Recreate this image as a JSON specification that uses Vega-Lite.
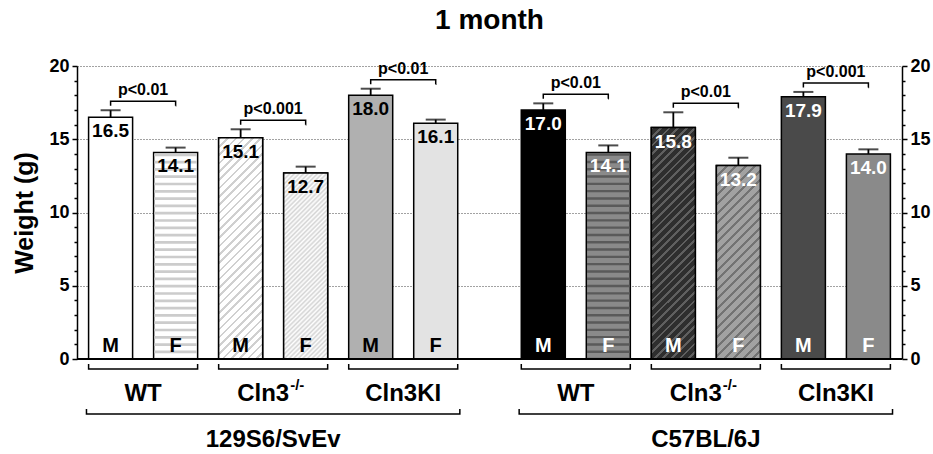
{
  "$schema": "https://vega.github.io/schema/vega-lite/v6.json",
  "width": 825,
  "height": 293,
  "autosize": {"type": "none"},
  "padding": {"left": 77, "top": 66, "right": 31, "bottom": 95},
  "background": "white",
  "title": {"text": "1 month", "fontSize": 28, "font": "Liberation Sans", "fontWeight": "bold", "color": "black", "anchor": "middle", "frame": "group", "baseline": "alphabetic", "offset": 0},
  "config": {
    "view": {"stroke": null},
    "font": "Liberation Sans",
    "axis": {"domainColor": "black", "domainWidth": 1.5, "tickColor": "black", "tickWidth": 1.5, "labelColor": "black", "labelFontSize": 18, "labelFontWeight": "bold", "labelFont": "Liberation Sans"}
  },
  "data": {"values": [
    {"strain": "129S6/SvEv", "genotype": "WT", "sex": "M", "sub": "WT M", "bar": "129S6/SvEv WT M", "mean": 16.5, "upper": 16.98, "p": "p<0.01"},
    {"strain": "129S6/SvEv", "genotype": "WT", "sex": "F", "sub": "WT F", "bar": "129S6/SvEv WT F", "mean": 14.1, "upper": 14.43, "p": "p<0.01"},
    {"strain": "129S6/SvEv", "genotype": "Cln3-/-", "sex": "M", "sub": "Cln3-/- M", "bar": "129S6/SvEv Cln3-/- M", "mean": 15.1, "upper": 15.68, "p": "p<0.001"},
    {"strain": "129S6/SvEv", "genotype": "Cln3-/-", "sex": "F", "sub": "Cln3-/- F", "bar": "129S6/SvEv Cln3-/- F", "mean": 12.7, "upper": 13.13, "p": "p<0.001"},
    {"strain": "129S6/SvEv", "genotype": "Cln3KI", "sex": "M", "sub": "Cln3KI M", "bar": "129S6/SvEv Cln3KI M", "mean": 18.0, "upper": 18.45, "p": "p<0.01"},
    {"strain": "129S6/SvEv", "genotype": "Cln3KI", "sex": "F", "sub": "Cln3KI F", "bar": "129S6/SvEv Cln3KI F", "mean": 16.1, "upper": 16.34, "p": "p<0.01"},
    {"strain": "C57BL/6J", "genotype": "WT", "sex": "M", "sub": "WT M", "bar": "C57BL/6J WT M", "mean": 17.0, "upper": 17.45, "p": "p<0.01"},
    {"strain": "C57BL/6J", "genotype": "WT", "sex": "F", "sub": "WT F", "bar": "C57BL/6J WT F", "mean": 14.1, "upper": 14.58, "p": "p<0.01"},
    {"strain": "C57BL/6J", "genotype": "Cln3-/-", "sex": "M", "sub": "Cln3-/- M", "bar": "C57BL/6J Cln3-/- M", "mean": 15.8, "upper": 16.84, "p": "p<0.01"},
    {"strain": "C57BL/6J", "genotype": "Cln3-/-", "sex": "F", "sub": "Cln3-/- F", "bar": "C57BL/6J Cln3-/- F", "mean": 13.2, "upper": 13.74, "p": "p<0.01"},
    {"strain": "C57BL/6J", "genotype": "Cln3KI", "sex": "M", "sub": "Cln3KI M", "bar": "C57BL/6J Cln3KI M", "mean": 17.9, "upper": 18.23, "p": "p<0.001"},
    {"strain": "C57BL/6J", "genotype": "Cln3KI", "sex": "F", "sub": "Cln3KI F", "bar": "C57BL/6J Cln3KI F", "mean": 14.0, "upper": 14.31, "p": "p<0.001"}
  ]},
  "resolve": {"scale": {"xOffset": "independent"}, "axis": {"y": "independent"}},
  "layer": [
    {
      "mark": {"type": "bar", "stroke": "black", "strokeWidth": 1.5},
      "encoding": {
        "x": {"field": "strain", "type": "nominal", "scale": {"domain": ["129S6/SvEv", "C57BL/6J"], "paddingInner": 0.0983, "paddingOuter": 0.0025}, "axis": null},
        "xOffset": {"field": "sub", "type": "nominal", "scale": {"domain": ["WT M", "WT F", "Cln3-/- M", "Cln3-/- F", "Cln3KI M", "Cln3KI F"], "paddingInner": 0.323, "paddingOuter": 0.1615}},
        "y": {"field": "mean", "type": "quantitative", "scale": {"domain": [0, 20], "nice": false},
          "axis": {"orient": "left", "values": [0, 5, 10, 15, 20], "grid": true, "gridDash": [1, 2], "gridColor": "#444", "gridWidth": 1, "tickSize": 5, "labelPadding": 3, "title": "Weight (g)", "titleFont": "Liberation Sans", "titleFontSize": 25, "titleFontWeight": "bold", "titleColor": "black", "titlePadding": 11}},
        "fill": {"field": "bar", "type": "nominal", "legend": null, "scale": {
          "domain": ["129S6/SvEv WT M", "129S6/SvEv WT F", "129S6/SvEv Cln3-/- M", "129S6/SvEv Cln3-/- F", "129S6/SvEv Cln3KI M", "129S6/SvEv Cln3KI F", "C57BL/6J WT M", "C57BL/6J WT F", "C57BL/6J Cln3-/- M", "C57BL/6J Cln3-/- F", "C57BL/6J Cln3KI M", "C57BL/6J Cln3KI F"],
          "range": ["#ffffff", "#ffffff", "#f0f0f0", "#e9e9e9", "#b0b0b0", "#e3e3e3", "#000000", "#8a8a8a", "#383838", "#999999", "#4a4a4a", "#8a8a8a"]}}
      }
    },
    {
      "transform": [{"filter": "datum.sub === 'WT F' && datum.strain === '129S6/SvEv'"}],
      "mark": {"type": "rule", "color": "#cccccc", "strokeWidth": 42.5, "strokeDash": [2.7, 4.6], "strokeCap": "butt", "yOffset": 1, "y2Offset": -1},
      "encoding": {
        "x": {"field": "strain", "type": "nominal", "scale": {"domain": ["129S6/SvEv", "C57BL/6J"], "paddingInner": 0.0983, "paddingOuter": 0.0025}, "axis": null},
        "xOffset": {"field": "sub", "type": "nominal", "scale": {"domain": ["WT M", "WT F", "Cln3-/- M", "Cln3-/- F", "Cln3KI M", "Cln3KI F"], "paddingInner": 0.323, "paddingOuter": 0.1615}},
        "y": {"field": "mean", "type": "quantitative", "scale": {"domain": [0, 20], "nice": false}, "axis": null},
        "y2": {"datum": 0}
      }
    },
    {
      "transform": [{"filter": "datum.sub === 'WT F' && datum.strain === 'C57BL/6J'"}],
      "mark": {"type": "rule", "color": "#5a5a5a", "strokeWidth": 42.5, "strokeDash": [2.4, 4.9], "strokeCap": "butt", "yOffset": 1, "y2Offset": -1},
      "encoding": {
        "x": {"field": "strain", "type": "nominal", "scale": {"domain": ["129S6/SvEv", "C57BL/6J"], "paddingInner": 0.0983, "paddingOuter": 0.0025}, "axis": null},
        "xOffset": {"field": "sub", "type": "nominal", "scale": {"domain": ["WT M", "WT F", "Cln3-/- M", "Cln3-/- F", "Cln3KI M", "Cln3KI F"], "paddingInner": 0.323, "paddingOuter": 0.1615}},
        "y": {"field": "mean", "type": "quantitative", "scale": {"domain": [0, 20], "nice": false}, "axis": null},
        "y2": {"datum": 0}
      }
    },
    {
      "transform": [{"filter": "datum.sub === 'Cln3-/- M' && datum.strain === '129S6/SvEv'"}],
      "mark": {"type": "bar", "stroke": "black", "strokeWidth": 1.5, "fill": {"gradient": "linear", "x1": 0, "y1": 0, "x2": 0.2294, "y2": 1.1533, "stops": [
        {"offset": 0, "color": "#d0d0d0"}, {"offset": 0.01, "color": "#d0d0d0"}, {"offset": 0.01, "color": "#ffffff"}, {"offset": 0.03125, "color": "#ffffff"},
        {"offset": 0.03125, "color": "#d0d0d0"}, {"offset": 0.04125, "color": "#d0d0d0"}, {"offset": 0.04125, "color": "#ffffff"}, {"offset": 0.0625, "color": "#ffffff"},
        {"offset": 0.0625, "color": "#d0d0d0"}, {"offset": 0.0725, "color": "#d0d0d0"}, {"offset": 0.0725, "color": "#ffffff"}, {"offset": 0.09375, "color": "#ffffff"},
        {"offset": 0.09375, "color": "#d0d0d0"}, {"offset": 0.10375, "color": "#d0d0d0"}, {"offset": 0.10375, "color": "#ffffff"}, {"offset": 0.125, "color": "#ffffff"},
        {"offset": 0.125, "color": "#d0d0d0"}, {"offset": 0.135, "color": "#d0d0d0"}, {"offset": 0.135, "color": "#ffffff"}, {"offset": 0.15625, "color": "#ffffff"},
        {"offset": 0.15625, "color": "#d0d0d0"}, {"offset": 0.16625, "color": "#d0d0d0"}, {"offset": 0.16625, "color": "#ffffff"}, {"offset": 0.1875, "color": "#ffffff"},
        {"offset": 0.1875, "color": "#d0d0d0"}, {"offset": 0.1975, "color": "#d0d0d0"}, {"offset": 0.1975, "color": "#ffffff"}, {"offset": 0.21875, "color": "#ffffff"},
        {"offset": 0.21875, "color": "#d0d0d0"}, {"offset": 0.22875, "color": "#d0d0d0"}, {"offset": 0.22875, "color": "#ffffff"}, {"offset": 0.25, "color": "#ffffff"},
        {"offset": 0.25, "color": "#d0d0d0"}, {"offset": 0.26, "color": "#d0d0d0"}, {"offset": 0.26, "color": "#ffffff"}, {"offset": 0.28125, "color": "#ffffff"},
        {"offset": 0.28125, "color": "#d0d0d0"}, {"offset": 0.29125, "color": "#d0d0d0"}, {"offset": 0.29125, "color": "#ffffff"}, {"offset": 0.3125, "color": "#ffffff"},
        {"offset": 0.3125, "color": "#d0d0d0"}, {"offset": 0.3225, "color": "#d0d0d0"}, {"offset": 0.3225, "color": "#ffffff"}, {"offset": 0.34375, "color": "#ffffff"},
        {"offset": 0.34375, "color": "#d0d0d0"}, {"offset": 0.35375, "color": "#d0d0d0"}, {"offset": 0.35375, "color": "#ffffff"}, {"offset": 0.375, "color": "#ffffff"},
        {"offset": 0.375, "color": "#d0d0d0"}, {"offset": 0.385, "color": "#d0d0d0"}, {"offset": 0.385, "color": "#ffffff"}, {"offset": 0.40625, "color": "#ffffff"},
        {"offset": 0.40625, "color": "#d0d0d0"}, {"offset": 0.41625, "color": "#d0d0d0"}, {"offset": 0.41625, "color": "#ffffff"}, {"offset": 0.4375, "color": "#ffffff"},
        {"offset": 0.4375, "color": "#d0d0d0"}, {"offset": 0.4475, "color": "#d0d0d0"}, {"offset": 0.4475, "color": "#ffffff"}, {"offset": 0.46875, "color": "#ffffff"},
        {"offset": 0.46875, "color": "#d0d0d0"}, {"offset": 0.47875, "color": "#d0d0d0"}, {"offset": 0.47875, "color": "#ffffff"}, {"offset": 0.5, "color": "#ffffff"},
        {"offset": 0.5, "color": "#d0d0d0"}, {"offset": 0.51, "color": "#d0d0d0"}, {"offset": 0.51, "color": "#ffffff"}, {"offset": 0.53125, "color": "#ffffff"},
        {"offset": 0.53125, "color": "#d0d0d0"}, {"offset": 0.54125, "color": "#d0d0d0"}, {"offset": 0.54125, "color": "#ffffff"}, {"offset": 0.5625, "color": "#ffffff"},
        {"offset": 0.5625, "color": "#d0d0d0"}, {"offset": 0.5725, "color": "#d0d0d0"}, {"offset": 0.5725, "color": "#ffffff"}, {"offset": 0.59375, "color": "#ffffff"},
        {"offset": 0.59375, "color": "#d0d0d0"}, {"offset": 0.60375, "color": "#d0d0d0"}, {"offset": 0.60375, "color": "#ffffff"}, {"offset": 0.625, "color": "#ffffff"},
        {"offset": 0.625, "color": "#d0d0d0"}, {"offset": 0.635, "color": "#d0d0d0"}, {"offset": 0.635, "color": "#ffffff"}, {"offset": 0.65625, "color": "#ffffff"},
        {"offset": 0.65625, "color": "#d0d0d0"}, {"offset": 0.66625, "color": "#d0d0d0"}, {"offset": 0.66625, "color": "#ffffff"}, {"offset": 0.6875, "color": "#ffffff"},
        {"offset": 0.6875, "color": "#d0d0d0"}, {"offset": 0.6975, "color": "#d0d0d0"}, {"offset": 0.6975, "color": "#ffffff"}, {"offset": 0.71875, "color": "#ffffff"},
        {"offset": 0.71875, "color": "#d0d0d0"}, {"offset": 0.72875, "color": "#d0d0d0"}, {"offset": 0.72875, "color": "#ffffff"}, {"offset": 0.75, "color": "#ffffff"},
        {"offset": 0.75, "color": "#d0d0d0"}, {"offset": 0.76, "color": "#d0d0d0"}, {"offset": 0.76, "color": "#ffffff"}, {"offset": 0.78125, "color": "#ffffff"},
        {"offset": 0.78125, "color": "#d0d0d0"}, {"offset": 0.79125, "color": "#d0d0d0"}, {"offset": 0.79125, "color": "#ffffff"}, {"offset": 0.8125, "color": "#ffffff"},
        {"offset": 0.8125, "color": "#d0d0d0"}, {"offset": 0.8225, "color": "#d0d0d0"}, {"offset": 0.8225, "color": "#ffffff"}, {"offset": 0.84375, "color": "#ffffff"},
        {"offset": 0.84375, "color": "#d0d0d0"}, {"offset": 0.85375, "color": "#d0d0d0"}, {"offset": 0.85375, "color": "#ffffff"}, {"offset": 0.875, "color": "#ffffff"},
        {"offset": 0.875, "color": "#d0d0d0"}, {"offset": 0.885, "color": "#d0d0d0"}, {"offset": 0.885, "color": "#ffffff"}, {"offset": 0.90625, "color": "#ffffff"},
        {"offset": 0.90625, "color": "#d0d0d0"}, {"offset": 0.91625, "color": "#d0d0d0"}, {"offset": 0.91625, "color": "#ffffff"}, {"offset": 0.9375, "color": "#ffffff"},
        {"offset": 0.9375, "color": "#d0d0d0"}, {"offset": 0.9475, "color": "#d0d0d0"}, {"offset": 0.9475, "color": "#ffffff"}, {"offset": 0.96875, "color": "#ffffff"},
        {"offset": 0.96875, "color": "#d0d0d0"}, {"offset": 0.97875, "color": "#d0d0d0"}, {"offset": 0.97875, "color": "#ffffff"}, {"offset": 1, "color": "#ffffff"}
      ]}},
      "encoding": {
        "x": {"field": "strain", "type": "nominal", "scale": {"domain": ["129S6/SvEv", "C57BL/6J"], "paddingInner": 0.0983, "paddingOuter": 0.0025}, "axis": null},
        "xOffset": {"field": "sub", "type": "nominal", "scale": {"domain": ["WT M", "WT F", "Cln3-/- M", "Cln3-/- F", "Cln3KI M", "Cln3KI F"], "paddingInner": 0.323, "paddingOuter": 0.1615}},
        "y": {"field": "mean", "type": "quantitative", "scale": {"domain": [0, 20], "nice": false}, "axis": null}
      }
    },
    {
      "transform": [{"filter": "datum.sub === 'Cln3-/- F' && datum.strain === '129S6/SvEv'"}],
      "mark": {"type": "bar", "stroke": "black", "strokeWidth": 1.5, "fill": {"gradient": "linear", "x1": 0, "y1": 0, "x2": 0.2768, "y2": 1.171, "stops": [
        {"offset": 0, "color": "#ffffff"}, {"offset": 0.01, "color": "#d4d4d4"}, {"offset": 0.02, "color": "#ffffff"}, {"offset": 0.03, "color": "#d4d4d4"}, {"offset": 0.04, "color": "#ffffff"},
        {"offset": 0.05, "color": "#d4d4d4"}, {"offset": 0.06, "color": "#ffffff"}, {"offset": 0.07, "color": "#d4d4d4"}, {"offset": 0.08, "color": "#ffffff"}, {"offset": 0.09, "color": "#d4d4d4"},
        {"offset": 0.1, "color": "#ffffff"}, {"offset": 0.11, "color": "#d4d4d4"}, {"offset": 0.12, "color": "#ffffff"}, {"offset": 0.13, "color": "#d4d4d4"}, {"offset": 0.14, "color": "#ffffff"},
        {"offset": 0.15, "color": "#d4d4d4"}, {"offset": 0.16, "color": "#ffffff"}, {"offset": 0.17, "color": "#d4d4d4"}, {"offset": 0.18, "color": "#ffffff"}, {"offset": 0.19, "color": "#d4d4d4"},
        {"offset": 0.2, "color": "#ffffff"}, {"offset": 0.21, "color": "#d4d4d4"}, {"offset": 0.22, "color": "#ffffff"}, {"offset": 0.23, "color": "#d4d4d4"}, {"offset": 0.24, "color": "#ffffff"},
        {"offset": 0.25, "color": "#d4d4d4"}, {"offset": 0.26, "color": "#ffffff"}, {"offset": 0.27, "color": "#d4d4d4"}, {"offset": 0.28, "color": "#ffffff"}, {"offset": 0.29, "color": "#d4d4d4"},
        {"offset": 0.3, "color": "#ffffff"}, {"offset": 0.31, "color": "#d4d4d4"}, {"offset": 0.32, "color": "#ffffff"}, {"offset": 0.33, "color": "#d4d4d4"}, {"offset": 0.34, "color": "#ffffff"},
        {"offset": 0.35, "color": "#d4d4d4"}, {"offset": 0.36, "color": "#ffffff"}, {"offset": 0.37, "color": "#d4d4d4"}, {"offset": 0.38, "color": "#ffffff"}, {"offset": 0.39, "color": "#d4d4d4"},
        {"offset": 0.4, "color": "#ffffff"}, {"offset": 0.41, "color": "#d4d4d4"}, {"offset": 0.42, "color": "#ffffff"}, {"offset": 0.43, "color": "#d4d4d4"}, {"offset": 0.44, "color": "#ffffff"},
        {"offset": 0.45, "color": "#d4d4d4"}, {"offset": 0.46, "color": "#ffffff"}, {"offset": 0.47, "color": "#d4d4d4"}, {"offset": 0.48, "color": "#ffffff"}, {"offset": 0.49, "color": "#d4d4d4"},
        {"offset": 0.5, "color": "#ffffff"}, {"offset": 0.51, "color": "#d4d4d4"}, {"offset": 0.52, "color": "#ffffff"}, {"offset": 0.53, "color": "#d4d4d4"}, {"offset": 0.54, "color": "#ffffff"},
        {"offset": 0.55, "color": "#d4d4d4"}, {"offset": 0.56, "color": "#ffffff"}, {"offset": 0.57, "color": "#d4d4d4"}, {"offset": 0.58, "color": "#ffffff"}, {"offset": 0.59, "color": "#d4d4d4"},
        {"offset": 0.6, "color": "#ffffff"}, {"offset": 0.61, "color": "#d4d4d4"}, {"offset": 0.62, "color": "#ffffff"}, {"offset": 0.63, "color": "#d4d4d4"}, {"offset": 0.64, "color": "#ffffff"},
        {"offset": 0.65, "color": "#d4d4d4"}, {"offset": 0.66, "color": "#ffffff"}, {"offset": 0.67, "color": "#d4d4d4"}, {"offset": 0.68, "color": "#ffffff"}, {"offset": 0.69, "color": "#d4d4d4"},
        {"offset": 0.7, "color": "#ffffff"}, {"offset": 0.71, "color": "#d4d4d4"}, {"offset": 0.72, "color": "#ffffff"}, {"offset": 0.73, "color": "#d4d4d4"}, {"offset": 0.74, "color": "#ffffff"},
        {"offset": 0.75, "color": "#d4d4d4"}, {"offset": 0.76, "color": "#ffffff"}, {"offset": 0.77, "color": "#d4d4d4"}, {"offset": 0.78, "color": "#ffffff"}, {"offset": 0.79, "color": "#d4d4d4"},
        {"offset": 0.8, "color": "#ffffff"}, {"offset": 0.81, "color": "#d4d4d4"}, {"offset": 0.82, "color": "#ffffff"}, {"offset": 0.83, "color": "#d4d4d4"}, {"offset": 0.84, "color": "#ffffff"},
        {"offset": 0.85, "color": "#d4d4d4"}, {"offset": 0.86, "color": "#ffffff"}, {"offset": 0.87, "color": "#d4d4d4"}, {"offset": 0.88, "color": "#ffffff"}, {"offset": 0.89, "color": "#d4d4d4"},
        {"offset": 0.9, "color": "#ffffff"}, {"offset": 0.91, "color": "#d4d4d4"}, {"offset": 0.92, "color": "#ffffff"}, {"offset": 0.93, "color": "#d4d4d4"}, {"offset": 0.94, "color": "#ffffff"},
        {"offset": 0.95, "color": "#d4d4d4"}, {"offset": 0.96, "color": "#ffffff"}, {"offset": 0.97, "color": "#d4d4d4"}, {"offset": 0.98, "color": "#ffffff"}, {"offset": 0.99, "color": "#d4d4d4"},
        {"offset": 1, "color": "#ffffff"}
      ]}},
      "encoding": {
        "x": {"field": "strain", "type": "nominal", "scale": {"domain": ["129S6/SvEv", "C57BL/6J"], "paddingInner": 0.0983, "paddingOuter": 0.0025}, "axis": null},
        "xOffset": {"field": "sub", "type": "nominal", "scale": {"domain": ["WT M", "WT F", "Cln3-/- M", "Cln3-/- F", "Cln3KI M", "Cln3KI F"], "paddingInner": 0.323, "paddingOuter": 0.1615}},
        "y": {"field": "mean", "type": "quantitative", "scale": {"domain": [0, 20], "nice": false}, "axis": null}
      }
    },
    {
      "transform": [{"filter": "datum.sub === 'Cln3-/- M' && datum.strain === 'C57BL/6J'"}],
      "mark": {"type": "bar", "stroke": "black", "strokeWidth": 1.5, "fill": {"gradient": "linear", "x1": 0, "y1": 0, "x2": 0.2183, "y2": 1.1486, "stops": [
        {"offset": 0, "color": "#5f5f5f"}, {"offset": 0.01, "color": "#5f5f5f"}, {"offset": 0.01, "color": "#2e2e2e"}, {"offset": 0.03125, "color": "#2e2e2e"},
        {"offset": 0.03125, "color": "#5f5f5f"}, {"offset": 0.04125, "color": "#5f5f5f"}, {"offset": 0.04125, "color": "#2e2e2e"}, {"offset": 0.0625, "color": "#2e2e2e"},
        {"offset": 0.0625, "color": "#5f5f5f"}, {"offset": 0.0725, "color": "#5f5f5f"}, {"offset": 0.0725, "color": "#2e2e2e"}, {"offset": 0.09375, "color": "#2e2e2e"},
        {"offset": 0.09375, "color": "#5f5f5f"}, {"offset": 0.10375, "color": "#5f5f5f"}, {"offset": 0.10375, "color": "#2e2e2e"}, {"offset": 0.125, "color": "#2e2e2e"},
        {"offset": 0.125, "color": "#5f5f5f"}, {"offset": 0.135, "color": "#5f5f5f"}, {"offset": 0.135, "color": "#2e2e2e"}, {"offset": 0.15625, "color": "#2e2e2e"},
        {"offset": 0.15625, "color": "#5f5f5f"}, {"offset": 0.16625, "color": "#5f5f5f"}, {"offset": 0.16625, "color": "#2e2e2e"}, {"offset": 0.1875, "color": "#2e2e2e"},
        {"offset": 0.1875, "color": "#5f5f5f"}, {"offset": 0.1975, "color": "#5f5f5f"}, {"offset": 0.1975, "color": "#2e2e2e"}, {"offset": 0.21875, "color": "#2e2e2e"},
        {"offset": 0.21875, "color": "#5f5f5f"}, {"offset": 0.22875, "color": "#5f5f5f"}, {"offset": 0.22875, "color": "#2e2e2e"}, {"offset": 0.25, "color": "#2e2e2e"},
        {"offset": 0.25, "color": "#5f5f5f"}, {"offset": 0.26, "color": "#5f5f5f"}, {"offset": 0.26, "color": "#2e2e2e"}, {"offset": 0.28125, "color": "#2e2e2e"},
        {"offset": 0.28125, "color": "#5f5f5f"}, {"offset": 0.29125, "color": "#5f5f5f"}, {"offset": 0.29125, "color": "#2e2e2e"}, {"offset": 0.3125, "color": "#2e2e2e"},
        {"offset": 0.3125, "color": "#5f5f5f"}, {"offset": 0.3225, "color": "#5f5f5f"}, {"offset": 0.3225, "color": "#2e2e2e"}, {"offset": 0.34375, "color": "#2e2e2e"},
        {"offset": 0.34375, "color": "#5f5f5f"}, {"offset": 0.35375, "color": "#5f5f5f"}, {"offset": 0.35375, "color": "#2e2e2e"}, {"offset": 0.375, "color": "#2e2e2e"},
        {"offset": 0.375, "color": "#5f5f5f"}, {"offset": 0.385, "color": "#5f5f5f"}, {"offset": 0.385, "color": "#2e2e2e"}, {"offset": 0.40625, "color": "#2e2e2e"},
        {"offset": 0.40625, "color": "#5f5f5f"}, {"offset": 0.41625, "color": "#5f5f5f"}, {"offset": 0.41625, "color": "#2e2e2e"}, {"offset": 0.4375, "color": "#2e2e2e"},
        {"offset": 0.4375, "color": "#5f5f5f"}, {"offset": 0.4475, "color": "#5f5f5f"}, {"offset": 0.4475, "color": "#2e2e2e"}, {"offset": 0.46875, "color": "#2e2e2e"},
        {"offset": 0.46875, "color": "#5f5f5f"}, {"offset": 0.47875, "color": "#5f5f5f"}, {"offset": 0.47875, "color": "#2e2e2e"}, {"offset": 0.5, "color": "#2e2e2e"},
        {"offset": 0.5, "color": "#5f5f5f"}, {"offset": 0.51, "color": "#5f5f5f"}, {"offset": 0.51, "color": "#2e2e2e"}, {"offset": 0.53125, "color": "#2e2e2e"},
        {"offset": 0.53125, "color": "#5f5f5f"}, {"offset": 0.54125, "color": "#5f5f5f"}, {"offset": 0.54125, "color": "#2e2e2e"}, {"offset": 0.5625, "color": "#2e2e2e"},
        {"offset": 0.5625, "color": "#5f5f5f"}, {"offset": 0.5725, "color": "#5f5f5f"}, {"offset": 0.5725, "color": "#2e2e2e"}, {"offset": 0.59375, "color": "#2e2e2e"},
        {"offset": 0.59375, "color": "#5f5f5f"}, {"offset": 0.60375, "color": "#5f5f5f"}, {"offset": 0.60375, "color": "#2e2e2e"}, {"offset": 0.625, "color": "#2e2e2e"},
        {"offset": 0.625, "color": "#5f5f5f"}, {"offset": 0.635, "color": "#5f5f5f"}, {"offset": 0.635, "color": "#2e2e2e"}, {"offset": 0.65625, "color": "#2e2e2e"},
        {"offset": 0.65625, "color": "#5f5f5f"}, {"offset": 0.66625, "color": "#5f5f5f"}, {"offset": 0.66625, "color": "#2e2e2e"}, {"offset": 0.6875, "color": "#2e2e2e"},
        {"offset": 0.6875, "color": "#5f5f5f"}, {"offset": 0.6975, "color": "#5f5f5f"}, {"offset": 0.6975, "color": "#2e2e2e"}, {"offset": 0.71875, "color": "#2e2e2e"},
        {"offset": 0.71875, "color": "#5f5f5f"}, {"offset": 0.72875, "color": "#5f5f5f"}, {"offset": 0.72875, "color": "#2e2e2e"}, {"offset": 0.75, "color": "#2e2e2e"},
        {"offset": 0.75, "color": "#5f5f5f"}, {"offset": 0.76, "color": "#5f5f5f"}, {"offset": 0.76, "color": "#2e2e2e"}, {"offset": 0.78125, "color": "#2e2e2e"},
        {"offset": 0.78125, "color": "#5f5f5f"}, {"offset": 0.79125, "color": "#5f5f5f"}, {"offset": 0.79125, "color": "#2e2e2e"}, {"offset": 0.8125, "color": "#2e2e2e"},
        {"offset": 0.8125, "color": "#5f5f5f"}, {"offset": 0.8225, "color": "#5f5f5f"}, {"offset": 0.8225, "color": "#2e2e2e"}, {"offset": 0.84375, "color": "#2e2e2e"},
        {"offset": 0.84375, "color": "#5f5f5f"}, {"offset": 0.85375, "color": "#5f5f5f"}, {"offset": 0.85375, "color": "#2e2e2e"}, {"offset": 0.875, "color": "#2e2e2e"},
        {"offset": 0.875, "color": "#5f5f5f"}, {"offset": 0.885, "color": "#5f5f5f"}, {"offset": 0.885, "color": "#2e2e2e"}, {"offset": 0.90625, "color": "#2e2e2e"},
        {"offset": 0.90625, "color": "#5f5f5f"}, {"offset": 0.91625, "color": "#5f5f5f"}, {"offset": 0.91625, "color": "#2e2e2e"}, {"offset": 0.9375, "color": "#2e2e2e"},
        {"offset": 0.9375, "color": "#5f5f5f"}, {"offset": 0.9475, "color": "#5f5f5f"}, {"offset": 0.9475, "color": "#2e2e2e"}, {"offset": 0.96875, "color": "#2e2e2e"},
        {"offset": 0.96875, "color": "#5f5f5f"}, {"offset": 0.97875, "color": "#5f5f5f"}, {"offset": 0.97875, "color": "#2e2e2e"}, {"offset": 1, "color": "#2e2e2e"}
      ]}},
      "encoding": {
        "x": {"field": "strain", "type": "nominal", "scale": {"domain": ["129S6/SvEv", "C57BL/6J"], "paddingInner": 0.0983, "paddingOuter": 0.0025}, "axis": null},
        "xOffset": {"field": "sub", "type": "nominal", "scale": {"domain": ["WT M", "WT F", "Cln3-/- M", "Cln3-/- F", "Cln3KI M", "Cln3KI F"], "paddingInner": 0.323, "paddingOuter": 0.1615}},
        "y": {"field": "mean", "type": "quantitative", "scale": {"domain": [0, 20], "nice": false}, "axis": null}
      }
    },
    {
      "transform": [{"filter": "datum.sub === 'Cln3-/- F' && datum.strain === 'C57BL/6J'"}],
      "mark": {"type": "bar", "stroke": "black", "strokeWidth": 1.5, "fill": {"gradient": "linear", "x1": 0, "y1": 0, "x2": 0.2655, "y2": 1.1671, "stops": [
        {"offset": 0, "color": "#737373"}, {"offset": 0.012, "color": "#737373"}, {"offset": 0.012, "color": "#a2a2a2"}, {"offset": 0.04, "color": "#a2a2a2"},
        {"offset": 0.04, "color": "#737373"}, {"offset": 0.052, "color": "#737373"}, {"offset": 0.052, "color": "#a2a2a2"}, {"offset": 0.08, "color": "#a2a2a2"},
        {"offset": 0.08, "color": "#737373"}, {"offset": 0.092, "color": "#737373"}, {"offset": 0.092, "color": "#a2a2a2"}, {"offset": 0.12, "color": "#a2a2a2"},
        {"offset": 0.12, "color": "#737373"}, {"offset": 0.132, "color": "#737373"}, {"offset": 0.132, "color": "#a2a2a2"}, {"offset": 0.16, "color": "#a2a2a2"},
        {"offset": 0.16, "color": "#737373"}, {"offset": 0.172, "color": "#737373"}, {"offset": 0.172, "color": "#a2a2a2"}, {"offset": 0.2, "color": "#a2a2a2"},
        {"offset": 0.2, "color": "#737373"}, {"offset": 0.212, "color": "#737373"}, {"offset": 0.212, "color": "#a2a2a2"}, {"offset": 0.24, "color": "#a2a2a2"},
        {"offset": 0.24, "color": "#737373"}, {"offset": 0.252, "color": "#737373"}, {"offset": 0.252, "color": "#a2a2a2"}, {"offset": 0.28, "color": "#a2a2a2"},
        {"offset": 0.28, "color": "#737373"}, {"offset": 0.292, "color": "#737373"}, {"offset": 0.292, "color": "#a2a2a2"}, {"offset": 0.32, "color": "#a2a2a2"},
        {"offset": 0.32, "color": "#737373"}, {"offset": 0.332, "color": "#737373"}, {"offset": 0.332, "color": "#a2a2a2"}, {"offset": 0.36, "color": "#a2a2a2"},
        {"offset": 0.36, "color": "#737373"}, {"offset": 0.372, "color": "#737373"}, {"offset": 0.372, "color": "#a2a2a2"}, {"offset": 0.4, "color": "#a2a2a2"},
        {"offset": 0.4, "color": "#737373"}, {"offset": 0.412, "color": "#737373"}, {"offset": 0.412, "color": "#a2a2a2"}, {"offset": 0.44, "color": "#a2a2a2"},
        {"offset": 0.44, "color": "#737373"}, {"offset": 0.452, "color": "#737373"}, {"offset": 0.452, "color": "#a2a2a2"}, {"offset": 0.48, "color": "#a2a2a2"},
        {"offset": 0.48, "color": "#737373"}, {"offset": 0.492, "color": "#737373"}, {"offset": 0.492, "color": "#a2a2a2"}, {"offset": 0.52, "color": "#a2a2a2"},
        {"offset": 0.52, "color": "#737373"}, {"offset": 0.532, "color": "#737373"}, {"offset": 0.532, "color": "#a2a2a2"}, {"offset": 0.56, "color": "#a2a2a2"},
        {"offset": 0.56, "color": "#737373"}, {"offset": 0.572, "color": "#737373"}, {"offset": 0.572, "color": "#a2a2a2"}, {"offset": 0.6, "color": "#a2a2a2"},
        {"offset": 0.6, "color": "#737373"}, {"offset": 0.612, "color": "#737373"}, {"offset": 0.612, "color": "#a2a2a2"}, {"offset": 0.64, "color": "#a2a2a2"},
        {"offset": 0.64, "color": "#737373"}, {"offset": 0.652, "color": "#737373"}, {"offset": 0.652, "color": "#a2a2a2"}, {"offset": 0.68, "color": "#a2a2a2"},
        {"offset": 0.68, "color": "#737373"}, {"offset": 0.692, "color": "#737373"}, {"offset": 0.692, "color": "#a2a2a2"}, {"offset": 0.72, "color": "#a2a2a2"},
        {"offset": 0.72, "color": "#737373"}, {"offset": 0.732, "color": "#737373"}, {"offset": 0.732, "color": "#a2a2a2"}, {"offset": 0.76, "color": "#a2a2a2"},
        {"offset": 0.76, "color": "#737373"}, {"offset": 0.772, "color": "#737373"}, {"offset": 0.772, "color": "#a2a2a2"}, {"offset": 0.8, "color": "#a2a2a2"},
        {"offset": 0.8, "color": "#737373"}, {"offset": 0.812, "color": "#737373"}, {"offset": 0.812, "color": "#a2a2a2"}, {"offset": 0.84, "color": "#a2a2a2"},
        {"offset": 0.84, "color": "#737373"}, {"offset": 0.852, "color": "#737373"}, {"offset": 0.852, "color": "#a2a2a2"}, {"offset": 0.88, "color": "#a2a2a2"},
        {"offset": 0.88, "color": "#737373"}, {"offset": 0.892, "color": "#737373"}, {"offset": 0.892, "color": "#a2a2a2"}, {"offset": 0.92, "color": "#a2a2a2"},
        {"offset": 0.92, "color": "#737373"}, {"offset": 0.932, "color": "#737373"}, {"offset": 0.932, "color": "#a2a2a2"}, {"offset": 0.96, "color": "#a2a2a2"},
        {"offset": 0.96, "color": "#737373"}, {"offset": 0.972, "color": "#737373"}, {"offset": 0.972, "color": "#a2a2a2"}, {"offset": 1, "color": "#a2a2a2"}
      ]}},
      "encoding": {
        "x": {"field": "strain", "type": "nominal", "scale": {"domain": ["129S6/SvEv", "C57BL/6J"], "paddingInner": 0.0983, "paddingOuter": 0.0025}, "axis": null},
        "xOffset": {"field": "sub", "type": "nominal", "scale": {"domain": ["WT M", "WT F", "Cln3-/- M", "Cln3-/- F", "Cln3KI M", "Cln3KI F"], "paddingInner": 0.323, "paddingOuter": 0.1615}},
        "y": {"field": "mean", "type": "quantitative", "scale": {"domain": [0, 20], "nice": false}, "axis": null}
      }
    },
    {
      "mark": {"type": "rule", "color": "black", "strokeWidth": 1.8},
      "encoding": {
        "x": {"field": "strain", "type": "nominal", "scale": {"domain": ["129S6/SvEv", "C57BL/6J"], "paddingInner": 0.0983, "paddingOuter": 0.0025}, "axis": null},
        "xOffset": {"field": "sub", "type": "nominal", "scale": {"domain": ["WT M", "WT F", "Cln3-/- M", "Cln3-/- F", "Cln3KI M", "Cln3KI F"], "paddingInner": 0.323, "paddingOuter": 0.1615}},
        "y": {"field": "mean", "type": "quantitative", "scale": {"domain": [0, 20], "nice": false},
          "axis": {"orient": "right", "values": [0, 5, 10, 15, 20], "grid": false, "tickSize": 5, "labelPadding": 3, "title": null}},
        "y2": {"field": "upper"}
      }
    },
    {
      "mark": {"type": "tick", "color": "black", "size": 20, "thickness": 2, "orient": "horizontal"},
      "encoding": {
        "x": {"field": "strain", "type": "nominal", "scale": {"domain": ["129S6/SvEv", "C57BL/6J"], "paddingInner": 0.0983, "paddingOuter": 0.0025}, "axis": null},
        "xOffset": {"field": "sub", "type": "nominal", "scale": {"domain": ["WT M", "WT F", "Cln3-/- M", "Cln3-/- F", "Cln3KI M", "Cln3KI F"], "paddingInner": 0.323, "paddingOuter": 0.1615}},
        "y": {"field": "upper", "type": "quantitative", "scale": {"domain": [0, 20], "nice": false},
          "axis": {"orient": "left", "values": [1, 2, 3, 4, 6, 7, 8, 9, 11, 12, 13, 14, 16, 17, 18, 19], "labels": false, "domain": false, "grid": false, "tickSize": 3, "title": null}}
      }
    },
    {
      "mark": {"type": "text", "fontSize": 19, "fontWeight": "bold", "baseline": "alphabetic", "dy": 20},
      "encoding": {
        "x": {"field": "strain", "type": "nominal", "scale": {"domain": ["129S6/SvEv", "C57BL/6J"], "paddingInner": 0.0983, "paddingOuter": 0.0025}, "axis": null},
        "xOffset": {"field": "sub", "type": "nominal", "scale": {"type": "point", "domain": ["WT M", "WT F", "Cln3-/- M", "Cln3-/- F", "Cln3KI M", "Cln3KI F"], "padding": 0.5}},
        "y": {"field": "mean", "type": "quantitative", "scale": {"domain": [0, 20], "nice": false},
          "axis": {"orient": "right", "values": [1, 2, 3, 4, 6, 7, 8, 9, 11, 12, 13, 14, 16, 17, 18, 19], "labels": false, "domain": false, "grid": false, "tickSize": 3, "title": null}},
        "text": {"field": "mean", "type": "quantitative", "format": ".1f"},
        "color": {"field": "strain", "type": "nominal", "legend": null, "scale": {"domain": ["129S6/SvEv", "C57BL/6J"], "range": ["black", "white"]}}
      }
    },
    {
      "mark": {"type": "text", "fontSize": 20, "fontWeight": "bold", "baseline": "alphabetic", "dy": -7},
      "encoding": {
        "x": {"field": "strain", "type": "nominal", "scale": {"domain": ["129S6/SvEv", "C57BL/6J"], "paddingInner": 0.0983, "paddingOuter": 0.0025}, "axis": null},
        "xOffset": {"field": "sub", "type": "nominal", "scale": {"type": "point", "domain": ["WT M", "WT F", "Cln3-/- M", "Cln3-/- F", "Cln3KI M", "Cln3KI F"], "padding": 0.5}},
        "y": {"datum": 0, "type": "quantitative", "scale": {"domain": [0, 20], "nice": false}, "axis": null},
        "text": {"field": "sex", "type": "nominal"},
        "color": {"field": "strain", "type": "nominal", "legend": null, "scale": {"domain": ["129S6/SvEv", "C57BL/6J"], "range": ["black", "white"]}}
      }
    },
    {
      "transform": [
        {"joinaggregate": [{"op": "max", "field": "upper", "as": "top"}], "groupby": ["strain", "genotype"]},
        {"filter": "datum.sex === 'M'"}
      ],
      "mark": {"type": "bar", "filled": false, "color": "black", "strokeWidth": 1.5, "yOffset": -9, "y2Offset": -4.5, "strokeDash": [69.53, 65.03, 20]},
      "encoding": {
        "x": {"field": "strain", "type": "nominal", "scale": {"domain": ["129S6/SvEv", "C57BL/6J"], "paddingInner": 0.0983, "paddingOuter": 0.0025}, "axis": null},
        "xOffset": {"field": "genotype", "type": "nominal", "scale": {"domain": ["WT", "Cln3-/-", "Cln3KI"], "paddingInner": 0.5, "paddingOuter": 0.25}},
        "y": {"field": "top", "type": "quantitative", "scale": {"domain": [0, 20], "nice": false}, "axis": null},
        "y2": {"field": "top"}
      }
    },
    {
      "transform": [
        {"joinaggregate": [{"op": "max", "field": "upper", "as": "top"}], "groupby": ["strain", "genotype"]},
        {"filter": "datum.sex === 'M'"}
      ],
      "mark": {"type": "text", "fontSize": 16, "fontWeight": "bold", "baseline": "alphabetic", "dy": -15, "color": "black"},
      "encoding": {
        "x": {"field": "strain", "type": "nominal", "scale": {"domain": ["129S6/SvEv", "C57BL/6J"], "paddingInner": 0.0983, "paddingOuter": 0.0025}, "axis": null},
        "xOffset": {"field": "genotype", "type": "nominal", "scale": {"type": "point", "domain": ["WT", "Cln3-/-", "Cln3KI"], "padding": 0.5}},
        "y": {"field": "top", "type": "quantitative", "scale": {"domain": [0, 20], "nice": false}, "axis": null},
        "text": {"field": "p", "type": "nominal"}
      }
    },
    {
      "transform": [{"filter": "datum.sex === 'M'"}],
      "mark": {"type": "bar", "filled": false, "color": "black", "strokeWidth": 1.5, "yOffset": 10, "y2Offset": 5, "strokeDash": [0, 109.03, 300]},
      "encoding": {
        "x": {"field": "strain", "type": "nominal", "scale": {"domain": ["129S6/SvEv", "C57BL/6J"], "paddingInner": 0.0983, "paddingOuter": 0.0025}, "axis": null},
        "xOffset": {"field": "genotype", "type": "nominal", "scale": {"domain": ["WT", "Cln3-/-", "Cln3KI"], "paddingInner": 0.1618, "paddingOuter": 0.0809}},
        "y": {"datum": 0, "type": "quantitative", "scale": {"domain": [0, 20], "nice": false}, "axis": null},
        "y2": {"datum": 0}
      }
    },
    {
      "transform": [{"filter": "datum.sex === 'M' && datum.genotype !== 'Cln3-/-'"}],
      "mark": {"type": "text", "fontSize": 24, "fontWeight": "bold", "baseline": "alphabetic", "dy": 42, "color": "black"},
      "encoding": {
        "x": {"field": "strain", "type": "nominal", "scale": {"domain": ["129S6/SvEv", "C57BL/6J"], "paddingInner": 0.0983, "paddingOuter": 0.0025}, "axis": null},
        "xOffset": {"field": "genotype", "type": "nominal", "scale": {"type": "point", "domain": ["WT", "Cln3-/-", "Cln3KI"], "padding": 0.5}},
        "y": {"datum": 0, "type": "quantitative", "scale": {"domain": [0, 20], "nice": false}, "axis": null},
        "text": {"field": "genotype", "type": "nominal"}
      }
    },
    {
      "transform": [{"filter": "datum.sex === 'M' && datum.genotype === 'Cln3-/-'"}],
      "mark": {"type": "text", "fontSize": 24, "fontWeight": "bold", "baseline": "alphabetic", "align": "right", "dx": 16, "dy": 42, "color": "black"},
      "encoding": {
        "x": {"field": "strain", "type": "nominal", "scale": {"domain": ["129S6/SvEv", "C57BL/6J"], "paddingInner": 0.0983, "paddingOuter": 0.0025}, "axis": null},
        "xOffset": {"field": "genotype", "type": "nominal", "scale": {"type": "point", "domain": ["WT", "Cln3-/-", "Cln3KI"], "padding": 0.5}},
        "y": {"datum": 0, "type": "quantitative", "scale": {"domain": [0, 20], "nice": false}, "axis": null},
        "text": {"value": "Cln3"}
      }
    },
    {
      "transform": [{"filter": "datum.sex === 'M' && datum.genotype === 'Cln3-/-'"}],
      "mark": {"type": "text", "fontSize": 15, "fontWeight": "bold", "baseline": "alphabetic", "align": "left", "dx": 17, "dy": 31, "color": "black"},
      "encoding": {
        "x": {"field": "strain", "type": "nominal", "scale": {"domain": ["129S6/SvEv", "C57BL/6J"], "paddingInner": 0.0983, "paddingOuter": 0.0025}, "axis": null},
        "xOffset": {"field": "genotype", "type": "nominal", "scale": {"type": "point", "domain": ["WT", "Cln3-/-", "Cln3KI"], "padding": 0.5}},
        "y": {"datum": 0, "type": "quantitative", "scale": {"domain": [0, 20], "nice": false}, "axis": null},
        "text": {"value": "-/-"}
      }
    },
    {
      "transform": [{"filter": "datum.sex === 'M' && datum.genotype === 'WT'"}],
      "mark": {"type": "bar", "filled": false, "color": "black", "strokeWidth": 1.5, "width": {"band": 0.957}, "yOffset": 55, "y2Offset": 50, "strokeDash": [0, 373.4, 800]},
      "encoding": {
        "x": {"field": "strain", "type": "nominal", "scale": {"domain": ["129S6/SvEv", "C57BL/6J"], "paddingInner": 0.0983, "paddingOuter": 0.0025}, "axis": null},
        "y": {"datum": 0, "type": "quantitative", "scale": {"domain": [0, 20], "nice": false}, "axis": null},
        "y2": {"datum": 0}
      }
    },
    {
      "transform": [{"filter": "datum.sex === 'M' && datum.genotype === 'WT'"}],
      "mark": {"type": "text", "fontSize": 24, "fontWeight": "bold", "baseline": "alphabetic", "dy": 88, "color": "black"},
      "encoding": {
        "x": {"field": "strain", "type": "nominal", "scale": {"domain": ["129S6/SvEv", "C57BL/6J"], "paddingInner": 0.0983, "paddingOuter": 0.0025}, "axis": null},
        "y": {"datum": 0, "type": "quantitative", "scale": {"domain": [0, 20], "nice": false}, "axis": null},
        "text": {"field": "strain", "type": "nominal"}
      }
    },
    {
      "mark": {"type": "rule", "color": "black", "strokeWidth": 1.5},
      "encoding": {
        "y": {"datum": 0, "type": "quantitative", "scale": {"domain": [0, 20], "nice": false}, "axis": null}
      }
    }
  ]
}
